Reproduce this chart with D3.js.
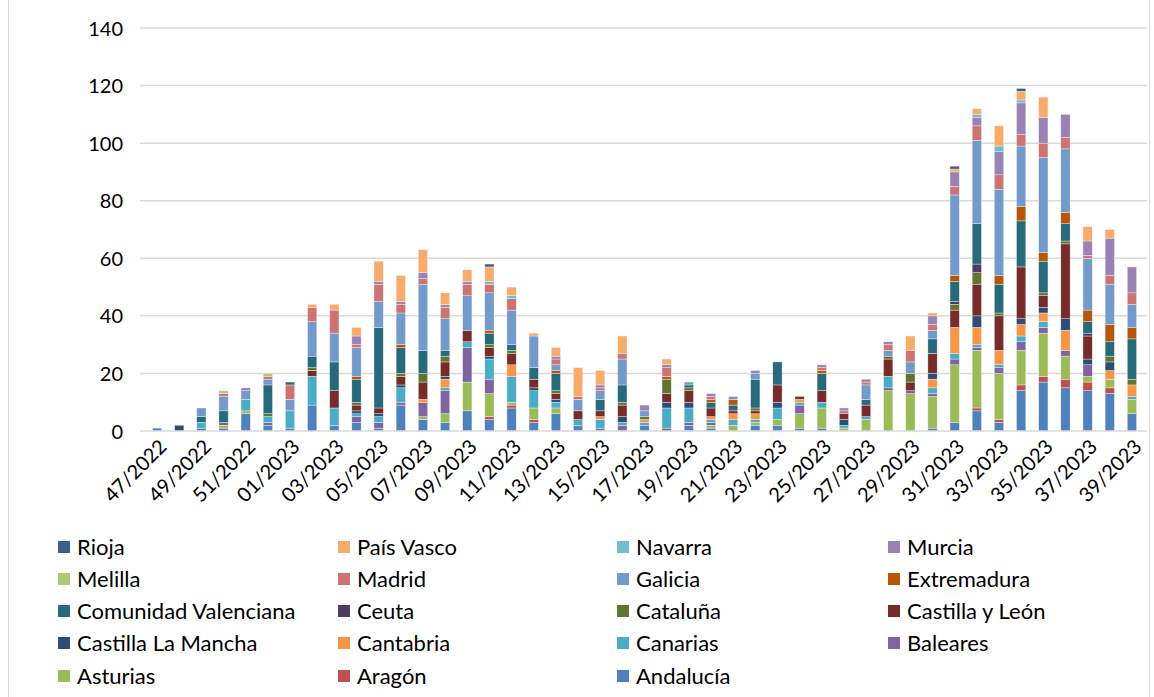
<!DOCTYPE html>
<html>
<head>
<meta charset="utf-8">
<script src="https://cdn.jsdelivr.net/npm/d3@7"></script>
<style>
  html, body { margin: 0; padding: 0; background: #fff; }
  svg text { font-family: Lato, "Open Sans", sans-serif; fill: #000; }
</style>
</head>
<body>
<svg id="chart" width="1154" height="697"></svg>
<script>
// Weekly counts by region, stacked bottom to top in this order
const weeks = ["47/2022","48/2022","49/2022","50/2022","51/2022","52/2022",
  "01/2023","02/2023","03/2023","04/2023","05/2023","06/2023","07/2023","08/2023","09/2023","10/2023",
  "11/2023","12/2023","13/2023","14/2023","15/2023","16/2023","17/2023","18/2023","19/2023","20/2023",
  "21/2023","22/2023","23/2023","24/2023","25/2023","26/2023","27/2023","28/2023","29/2023","30/2023",
  "31/2023","32/2023","33/2023","34/2023","35/2023","36/2023","37/2023","38/2023","39/2023"];

const regions = ["Andalucía","Aragón","Asturias","Baleares","Canarias","Cantabria",
  "Castilla La Mancha","Castilla y León","Cataluña","Ceuta","Comunidad Valenciana",
  "Extremadura","Galicia","Madrid","Melilla","Murcia","Navarra","País Vasco","Rioja"];

const colors = ["#4F81BD","#C0504D","#9BBB59","#8064A2","#4BACC6","#F79646",
  "#2C4D75","#772C2A","#5F7530","#4D3B62","#276A7C",
  "#B65708","#729ACA","#CD7371","#AFC97A","#9983B5","#6FBDD1","#F9AB6B","#3A5F8B"];

const andalucia   = [1,0,1,1,6,2,1,9,2,3, 1,9,4,3,7,4,8,3,6,2, 1,0,2,0,2,1,0,2,2,1, 1,0,0,0,0,1,3,7,3,14, 17,15,14,13,6];
const aragon      = [0,0,0,0,0,0,0,0,0,0, 0,0,0,0,0,1,1,1,0,0, 0,0,0,0,0,0,0,0,0,0, 0,0,0,0,0,0,0,1,1,2, 2,3,3,2,0];
const asturias    = [0,0,0,1,1,0,0,0,0,0, 0,0,1,3,10,8,1,4,2,0, 0,0,0,0,0,1,2,1,2,5, 7,1,4,14,13,11,20,20,16,12, 15,8,2,3,5];
const baleares    = [0,0,0,1,0,1,0,0,0,2, 2,1,5,8,12,5,0,0,0,0, 0,2,0,1,1,1,0,0,0,3, 0,0,0,1,1,1,2,1,2,3, 2,2,4,0,0];
const canarias    = [0,0,2,0,4,2,6,10,6,1, 2,5,0,1,2,7,9,6,2,2, 3,1,1,7,5,1,2,1,4,1, 2,1,1,4,0,2,2,1,1,2, 2,0,0,0,1];
const cantabria   = [0,0,0,0,0,0,0,0,0,0, 0,0,1,3,0,0,4,0,0,0, 1,0,1,0,0,1,2,2,0,1, 0,0,0,0,0,3,9,6,5,4, 3,7,0,3,4];
const castillaLM  = [0,2,0,0,0,0,0,0,0,1, 1,1,0,1,0,1,0,1,1,0, 0,2,0,2,2,0,0,0,2,0, 0,2,0,0,0,2,0,4,0,2, 2,4,2,3,0];
const castillaYL  = [0,0,0,0,0,0,0,2,6,2, 2,3,6,5,4,3,4,3,2,3, 2,4,0,3,4,3,1,1,6,1, 4,2,4,6,3,7,6,11,12,18, 4,26,8,0,0];
const cataluna    = [0,0,0,0,0,1,0,1,0,1, 0,1,3,2,0,1,1,0,1,0, 0,1,1,5,1,0,0,1,0,0, 0,0,0,1,3,0,2,4,1,0, 1,1,0,2,2];
const ceuta       = [0,0,0,0,0,0,0,0,0,0, 0,0,0,0,0,0,0,0,0,0, 0,0,0,0,0,0,0,0,0,0, 0,0,0,0,0,0,1,3,0,0, 0,0,1,0,0];
const comValenciana = [0,0,2,4,0,10,0,4,10,8, 28,9,8,2,0,4,2,4,6,0, 4,6,0,0,1,2,2,10,8,0, 6,0,2,0,0,5,7,14,10,16, 11,6,4,5,14];
const extremadura = [0,0,0,0,0,0,0,0,0,1, 0,1,0,0,0,1,0,0,1,0, 0,0,0,1,0,1,2,0,0,0, 1,0,0,0,0,0,2,0,3,5, 3,4,4,6,4];
const galicia     = [0,0,3,5,3,2,4,12,10,10, 9,11,23,11,12,13,12,11,2,4, 3,9,2,0,1,0,1,2,0,0, 0,0,5,2,4,3,28,29,30,21, 33,22,18,14,8];
const madrid      = [0,0,0,1,0,1,5,5,8,1, 6,3,2,4,4,3,4,0,2,1, 1,2,0,3,0,1,0,0,0,0, 1,1,1,2,4,2,3,5,5,4, 5,4,1,3,4];
const melilla     = [0,0,0,1,0,1,0,0,0,0, 0,0,0,0,0,0,0,0,0,0, 0,0,0,0,0,0,0,0,0,0, 0,0,0,0,0,0,0,0,0,0, 0,0,0,0,0];
const murcia      = [0,0,0,0,1,0,0,0,0,3, 1,1,2,1,1,0,0,0,1,0, 1,0,2,1,0,1,0,1,0,0, 1,1,1,1,0,3,5,3,8,11, 9,8,5,13,9];
const navarra     = [0,0,0,0,0,0,0,0,0,0, 0,0,0,0,0,1,1,0,0,0, 0,0,0,0,0,0,0,0,0,0, 0,0,0,0,0,0,0,1,2,1, 0,0,0,0,0];
const paisVasco   = [0,0,0,0,0,0,0,1,2,3, 7,9,8,4,4,5,3,1,3,10, 5,6,0,2,0,0,0,0,0,0, 0,0,0,0,5,1,1,2,7,3, 7,0,5,3,0];
const rioja       = [0,0,0,0,0,0,1,0,0,0, 0,0,0,0,0,1,0,0,0,0, 0,0,0,0,0,0,0,0,0,0, 0,0,0,0,0,0,1,0,0,1, 0,0,0,0,0];

const seriesValues = [andalucia, aragon, asturias, baleares, canarias, cantabria,
  castillaLM, castillaYL, cataluna, ceuta, comValenciana, extremadura, galicia,
  madrid, melilla, murcia, navarra, paisVasco, rioja];

const yTicks = [0, 20, 40, 60, 80, 100, 120, 140];
const xTickLabels = weeks.filter((w, i) => i % 2 === 0);

// Table for d3.stack: one row per week, one column per region
const table = weeks.map((w, i) => {
  const row = { week: w };
  regions.forEach((r, k) => { row[r] = seriesValues[k][i]; });
  return row;
});

const svg = d3.select("#chart");
const plot = { left: 140, right: 1147, top: 28, bottom: 431 };

// side edges of the chart frame
svg.append("g").selectAll("line").data([8.5, 1149.5]).join("line")
  .attr("x1", d => d).attr("x2", d => d).attr("y1", 0).attr("y2", 697)
  .attr("stroke", "#d9d9d9").attr("stroke-width", 1);

const x = d3.scaleBand().domain(weeks).range([146, 1143]).paddingInner(0.58).paddingOuter(0.29);
const y = d3.scaleLinear().domain([0, 140]).range([plot.bottom, plot.top]);

// horizontal gridlines
svg.append("g").selectAll("line").data(yTicks.filter(t => t > 0)).join("line")
  .attr("x1", plot.left).attr("x2", plot.right)
  .attr("y1", d => y(d)).attr("y2", d => y(d))
  .attr("stroke", "#d9d9d9").attr("stroke-width", 1.5);

// y axis labels
const yAxis = d3.axisLeft(y).tickValues(yTicks).tickSize(0).tickPadding(0);
svg.append("g").attr("transform", `translate(${plot.left - 17},0)`).call(yAxis)
  .call(g => g.select(".domain").remove())
  .call(g => g.selectAll("text").style("font-size", "20px").attr("dy", "0.35em")
    .style("font-family", "Lato, sans-serif").attr("fill", "#000"));

// stacked bars
const stack = d3.stack().keys(regions)(table);
svg.append("g").selectAll("g").data(stack).join("g")
  .attr("fill", (d, k) => colors[k])
  .selectAll("rect").data(d => d.filter(s => s[1] - s[0] > 0)).join("rect")
  .attr("x", d => x(d.data.week))
  .attr("width", x.bandwidth())
  .attr("y", d => y(d[1]))
  .attr("height", d => y(d[0]) - y(d[1]))
  .attr("stroke", "#ffffff").attr("stroke-width", 0.5).attr("stroke-opacity", 0.7);

// x axis line
svg.append("line").attr("x1", plot.left).attr("x2", plot.right)
  .attr("y1", plot.bottom).attr("y2", plot.bottom)
  .attr("stroke", "#d9d9d9").attr("stroke-width", 1.5);

// rotated x labels, every second week
svg.append("g").selectAll("text").data(xTickLabels).join("text")
  .attr("text-anchor", "end")
  .attr("transform", d => `translate(${x(d) + x.bandwidth() / 2 + 6},${plot.bottom + 12}) rotate(-45)`)
  .attr("dy", "0.35em")
  .style("font-size", "20px")
  .text(d => d);

// legend: four columns, regions listed in reverse stacking order
const legendOrder = regions.slice().reverse();
const colX = [58, 338, 617, 888];
const rowY = [547, 579, 611, 643, 676];
const legend = svg.append("g").selectAll("g").data(legendOrder).join("g")
  .attr("transform", (d, i) => `translate(${colX[i % 4]},${rowY[Math.floor(i / 4)]})`);
legend.append("rect").attr("x", 0).attr("y", -6).attr("width", 12).attr("height", 12)
  .attr("fill", d => colors[regions.indexOf(d)]);
legend.append("text").attr("x", 19).attr("dy", "0.35em")
  .style("font-size", "22px").text(d => d);
</script>
</body>
</html>
